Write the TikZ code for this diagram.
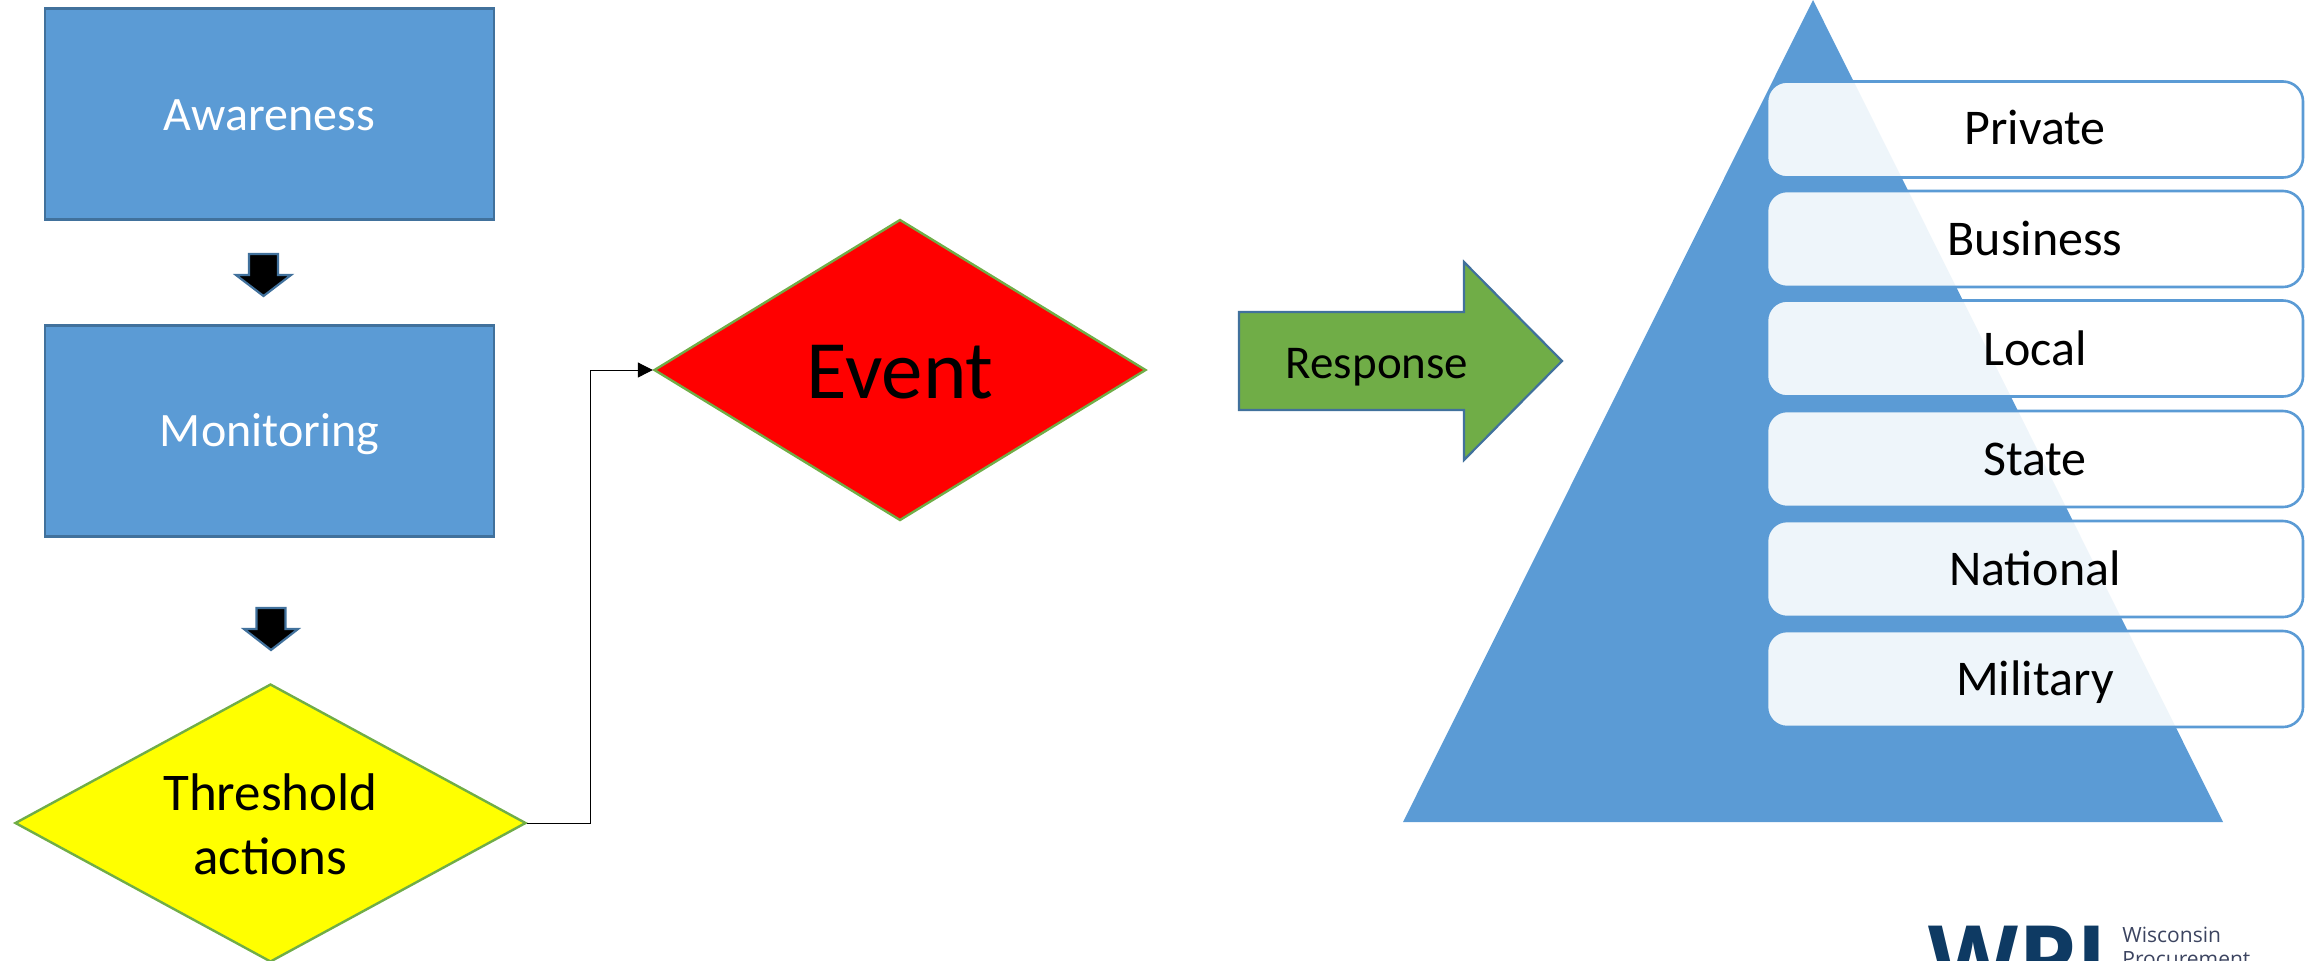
\documentclass[tikz,border=0pt]{standalone}
\usepackage{fontspec}
\setmainfont{Carlito}
\newfontfamily\logofont{Open Sans}
\usetikzlibrary{shapes.geometric,arrows.meta}
\definecolor{bluefill}{HTML}{5B9BD5}
\definecolor{bluedark}{HTML}{41719C}
\definecolor{greenfill}{HTML}{70AD47}
\definecolor{logoblue}{HTML}{0E3A63}
\definecolor{logotext}{HTML}{3C4460}
\definecolor{pureyellow}{HTML}{FFFF00}
\definecolor{purered}{HTML}{FF0000}
\newcommand{\lowered}[2]{\raisebox{-#1}[\height][\depth]{#2}}
\tikzset{
  x=0.5pt,y=-0.5pt,
  stagebox/.style={draw=bluedark,fill=bluefill,line width=1.1pt,minimum width=224.5pt,minimum height=105.5pt,inner sep=0pt,text=white,font=\fontsize{24pt}{28pt}\selectfont},
  decision/.style={diamond,draw=greenfill,line width=1.2pt,inner sep=0pt,text=black,align=center},
  blockarrow/.style={draw=bluedark,line width=1.1pt,line join=miter},
  levelbox/.style={rounded corners=10pt,draw=bluefill,line width=1.3pt,fill=white,fill opacity=0.9,text opacity=1,minimum width=268pt,minimum height=48pt,inner sep=0pt,text=black,font=\fontsize{25pt}{30pt}\selectfont},
  logoname/.style={anchor=base west,inner sep=0pt,text=logotext,font=\logofont\fontsize{10.5pt}{12pt}\selectfont},
}
\begin{document}
\begin{tikzpicture}
\useasboundingbox (0,0) rectangle (2321,960);
\clip (0,0) rectangle (2321,960);
% left column
\node[stagebox] (aware) at (269.5,114) {\lowered{0.8pt}{Awareness}};
\node[stagebox] (monitor) at (269.5,431) {\lowered{1.5pt}{Monitoring}};
\filldraw[blockarrow,fill=black] (249,254) -- (278,254) -- (278,275) -- (291,275) -- (263.5,296) -- (236,275) -- (249,275) -- cycle;
\filldraw[blockarrow,fill=black] (256.5,608) -- (285.5,608) -- (285.5,629) -- (298,629) -- (271,650) -- (244,629) -- (256.5,629) -- cycle;
\node[decision,fill=pureyellow,aspect=1.84,minimum width=255.5pt,minimum height=139pt,font=\fontsize{26.5pt}{32pt}\selectfont] (thresh) at (270.5,823) {\lowered{0.8pt}{Threshold}\\\lowered{0.8pt}{actions}};
\node[decision,fill=purered,aspect=1.63,minimum width=246pt,minimum height=150.5pt,font=\fontsize{41.5pt}{48pt}\selectfont] (event) at (900,370) {\lowered{1pt}{Event}};
\draw[line width=0.5pt,-{Triangle[length=7.5pt,width=7.5pt]}] (thresh.east) -- ++(63,0) |- (event.west);
% response arrow
\filldraw[blockarrow,fill=greenfill] (1239,312) -- (1464,312) -- (1464,262) -- (1562,361) -- (1464,460) -- (1464,410) -- (1239,410) -- cycle;
\node[font=\fontsize{23.5pt}{28pt}\selectfont,text=black] (resplabel) at (1377,367) {Response};
% pyramid
\fill[bluefill] (1813,0) -- (2223,822) -- (1403,822) -- cycle;
\node[levelbox] (private) at (2035,129.5) {\lowered{-1pt}{Private}};
\node[levelbox] (business) at (2035,239) {\lowered{-0.5pt}{Business}};
\node[levelbox] (local) at (2035,348.5) {Local};
\node[levelbox] (state) at (2035,459) {State};
\node[levelbox] (national) at (2035,569) {\lowered{-0.5pt}{National}};
\node[levelbox] (military) at (2035,679) {\lowered{1.5pt}{Military}};
% logo
\node[anchor=base west,inner sep=0pt,text=logoblue,font=\logofont\bfseries\fontsize{46.5pt}{48pt}\selectfont] (logowpi) at (1928,992) {WPI};
\node[logoname] (logoa) at (2122,942) {Wisconsin};
\node[logoname] (logob) at (2122,966) {Procurement};
\end{tikzpicture}
\end{document}
